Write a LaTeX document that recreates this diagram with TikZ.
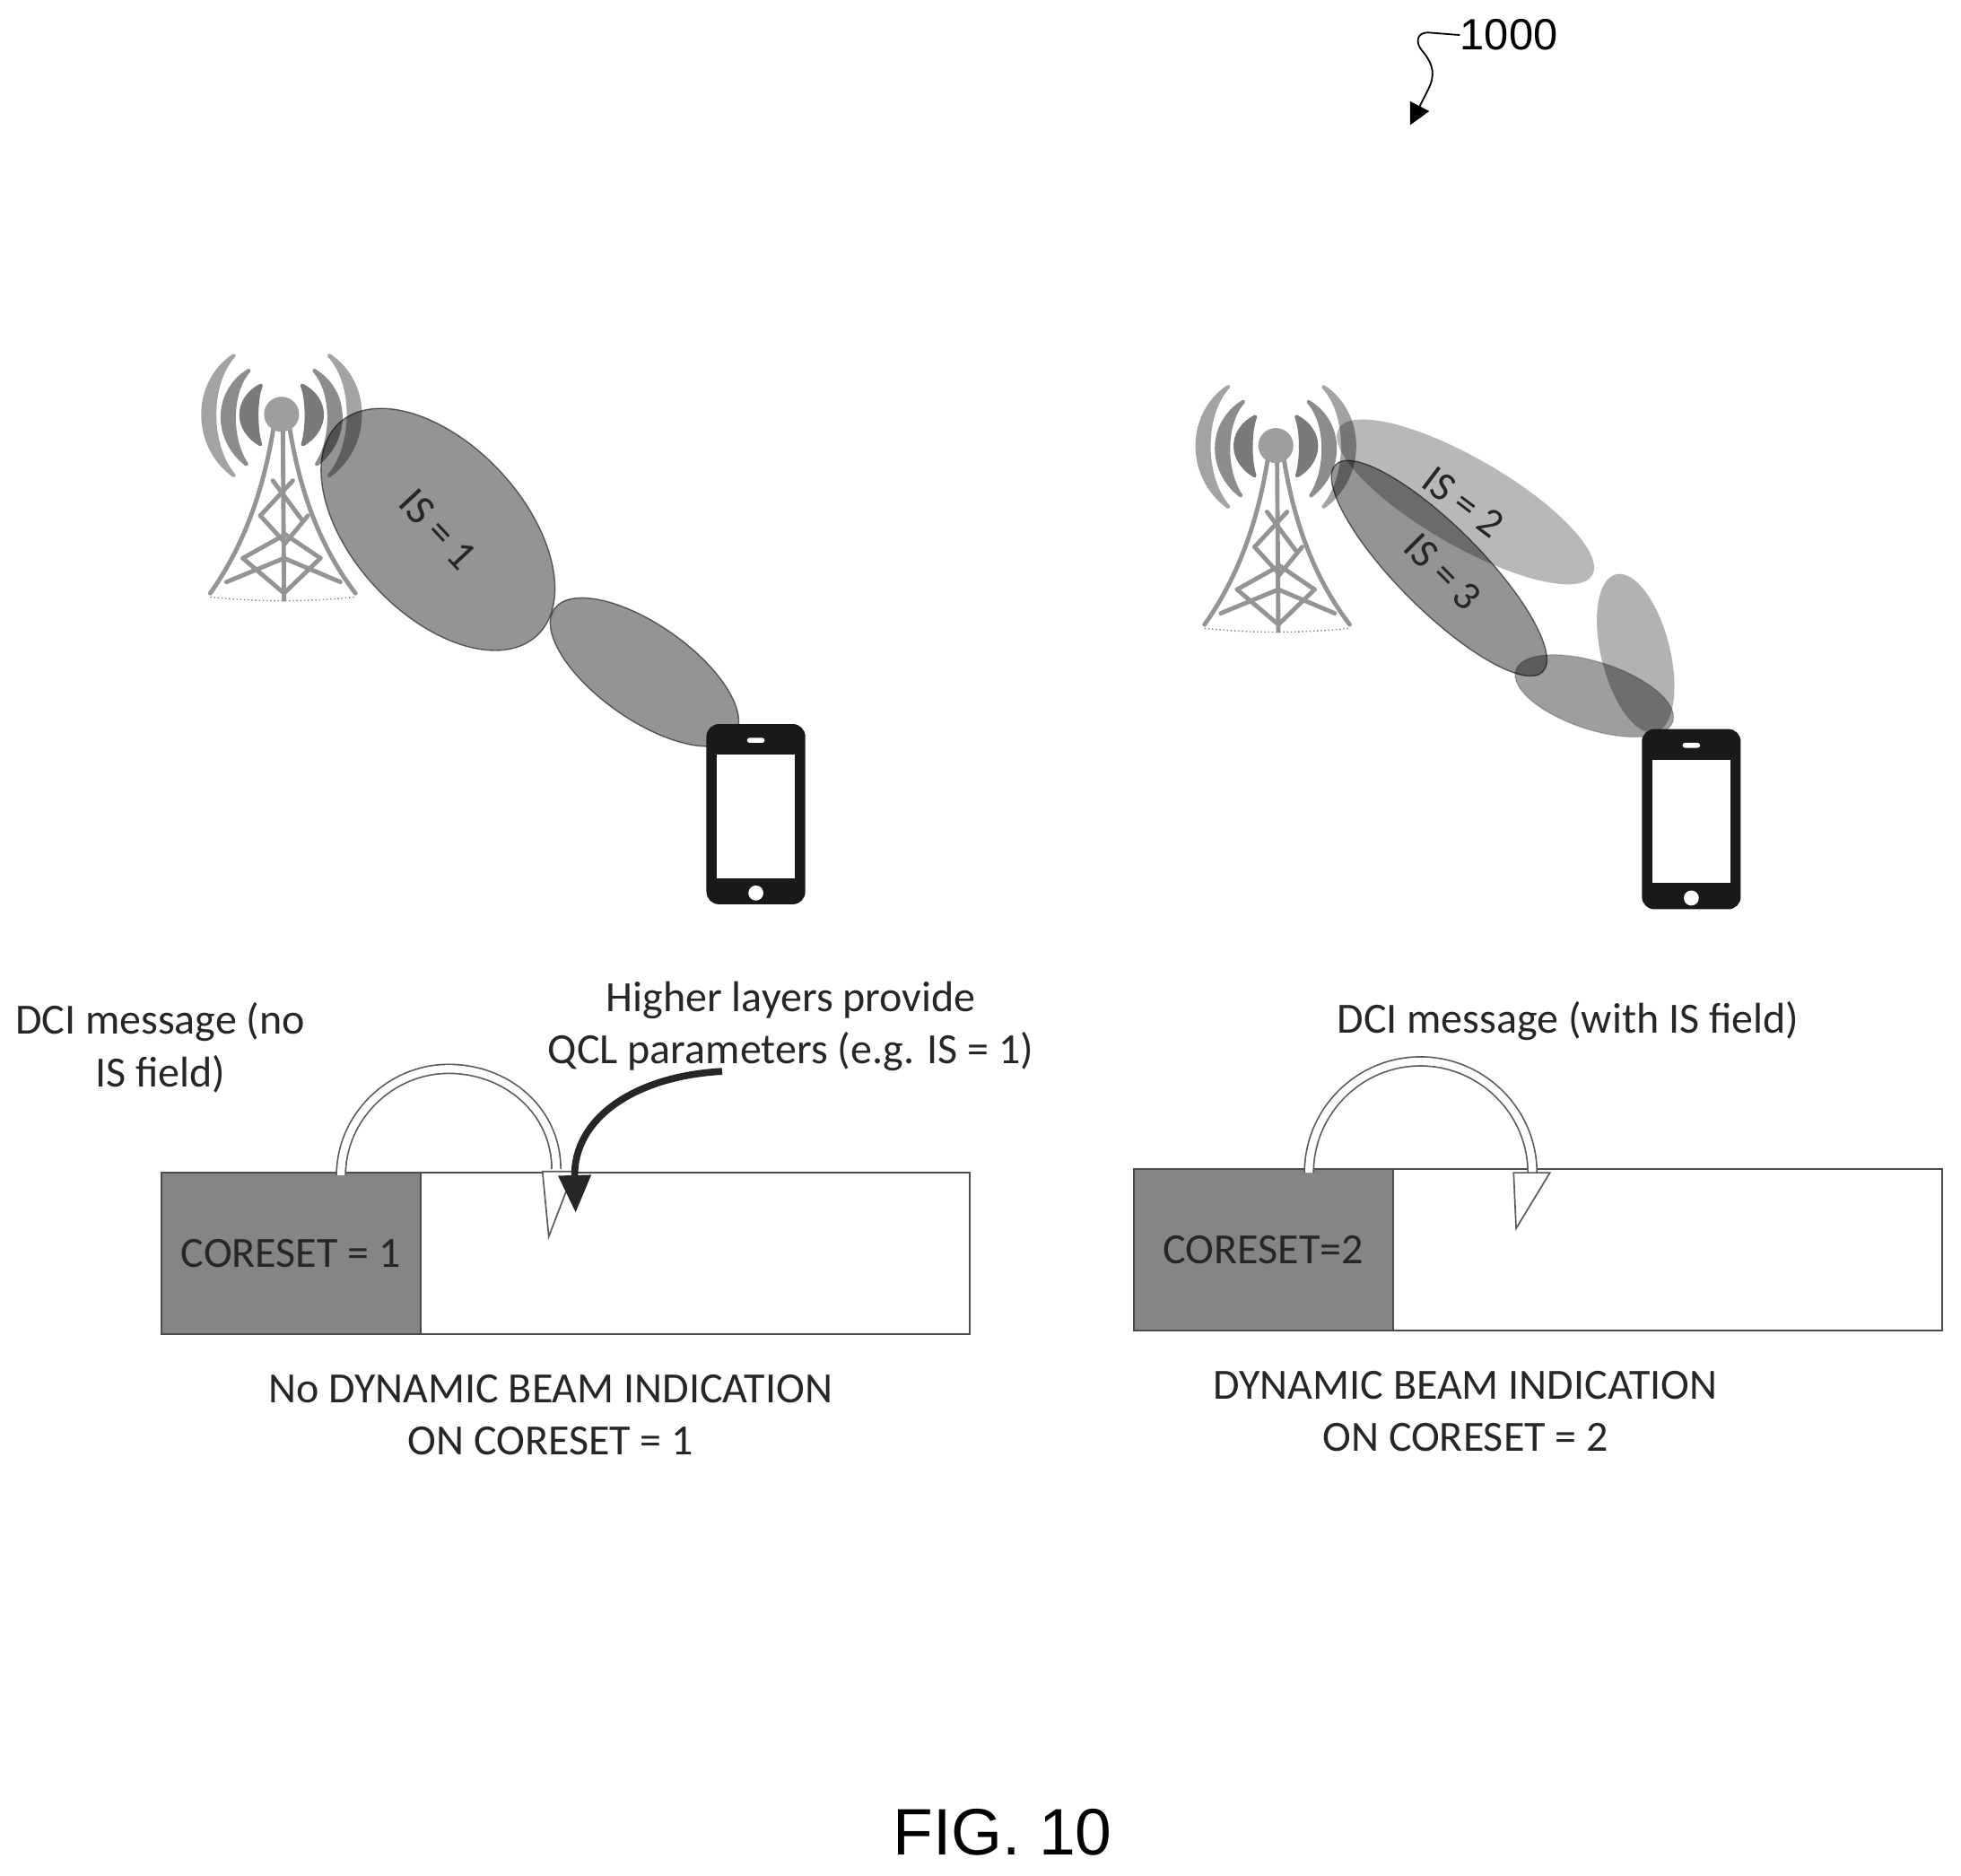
\documentclass[tikz,border=0pt]{standalone}
\usepackage{fontspec}
\setmainfont{Carlito}
\newfontfamily\figfont{Liberation Sans}
\usetikzlibrary{positioning,arrows.meta,shapes.geometric}

\tikzset{
  every picture/.style={line width=0.75pt},
  beam/.style={shape=ellipse,inner sep=0pt,outer sep=0pt,draw=black,draw opacity=.55,line width=1pt,
    fill=black,fill opacity=#1,text opacity=1,text=black!85,font=\fontsize{34}{40}\selectfont},
  beamtext/.style={inner sep=0pt,text=black!85,font=\fontsize{33}{40}\selectfont},
  caption/.style={align=center,text=black!85,font=\fontsize{34.4}{42}\selectfont},
  coreset/.style={draw=black!70,line width=1.2pt,fill=black!48,minimum width=207pt,minimum height=129pt,
    inner sep=0pt,outer sep=0pt,text=black!85,font=\fontsize{34.4}{40}\selectfont},
  slot/.style={draw=black!70,line width=1.2pt,fill=white,minimum width=439pt,minimum height=129pt,
    inner sep=0pt,outer sep=0pt},
  hollowband/.style={draw=black!65,line width=1.2pt,double=white,double distance=6pt},
  hollowhead/.style={draw=black!65,line width=1.2pt,fill=white,line join=miter},
  wavearc/.style={fill=black!#1,draw=black!#1,line width=3pt,line join=round},
  strut/.style={draw=black!42,line width=3.5pt,line cap=round},
  tower/.pic={
    %Waves
    \foreach \s in {-1,1} {
      \begin{scope}[xscale=\s]
        \path [wavearc=52] (-16.5,-23) .. controls (-37.5,-12) and (-37.5,12) .. (-17,24) .. controls (-21,12) and (-21,-12) .. cycle ;
        \path [wavearc=45] (-26,-35) .. controls (-54,-18) and (-54,20) .. (-28,40) .. controls (-41.7,20) and (-41.7,-18) .. cycle ;
        \path [wavearc=36] (-38,-47) .. controls (-71,-25) and (-71,25) .. (-38,49) .. controls (-58.8,25) and (-58.8,-25) .. cycle ;
      \end{scope}
    }
    %Legs
    \draw [strut] (-6,8) .. controls (-14,60) and (-30,105) .. (-57,143) ;
    \draw [strut] (6,8) .. controls (14,60) and (30,105) .. (59,143) ;
    \draw [strut] (1,10) -- (2,148) ;
    %Lattice
    \draw [strut] (-31,115) -- (2,143) -- (31,115) ;
    \draw [strut] (-44,134) -- (2,115) -- (47,134) ;
    \draw [strut] (-31,115) -- (3,96) -- (31,115) ;
    \draw [strut] (-17,81) -- (3,103) -- (21,81) ;
    \draw [strut] (-7,53) -- (16,84) ;
    \draw [strut] (9,53) -- (-17,81) ;
    %Ground
    \draw [black!50,line width=1pt,dotted] (-57,146) .. controls (-20,150) and (20,150) .. (59,146) ;
    %Ball
    \fill [black!38] (0,0) circle (14) ;
  },
  handset/.pic={
    \fill [black!90,rounded corners=10pt] (-39.5,-72) rectangle (39.5,72) ;
    \fill [white] (-31,-47.5) rectangle (31,51) ;
    \fill [white,rounded corners=2pt] (-7,-61) rectangle (7,-57) ;
    \fill [white] (0,63) circle (6) ;
  },
}

\begin{document}
\begin{tikzpicture}[x=1pt,y=1pt,yscale=-1,xscale=1]
\useasboundingbox (0,0) rectangle (1567,1498.2);

%Reference numeral
\node [inner sep=0pt,font=\figfont\fontsize{35}{40}\selectfont,anchor=west] (ref) at (1166.5,28) {1000};
\coordinate (refend) at (1126.7,100);
\draw [black,line width=1.3pt,-{Triangle[length=17pt,width=17pt]}] (ref.west) -- (1141,26) .. controls (1132,26) and (1131,34) .. (1136,40) .. controls (1146,52) and (1147,60) .. (1141,72) -- (refend) ;

%Towers
\pic [yscale=-1] at (225,331) {tower};
\pic [yscale=-1] at (1019.5,356) {tower};

%Left beams
\node [beam=.42,minimum width=232pt,minimum height=136pt,rotate=-47] (beamA) at (350,423) {IS = 1};
\node [beam=.42,minimum width=176pt,minimum height=76pt,rotate=-35] (beamB) at (515,537) {};

%Right beams
\node [beam=.28,draw opacity=0,minimum width=234pt,minimum height=70pt,rotate=-30] (beamC) at (1171,401) {};
\node [beam=.42,minimum width=234pt,minimum height=67pt,rotate=-45] (beamD) at (1150,454) {};
\node [beam=.38,draw opacity=.2,minimum width=132pt,minimum height=54pt,rotate=-18] (beamE) at (1274,556) {};
\node [beam=.3,draw opacity=0,minimum width=130pt,minimum height=55pt,rotate=-76] (beamF) at (1307,522) {};
\node [beamtext,rotate=-37] (isC) at (1169,401) {IS = 2};
\node [beamtext,rotate=-45] (isD) at (1153,457) {IS = 3};

%Phones
\pic [yscale=-1] at (604,650.5) {handset};
\pic [yscale=-1] at (1351.5,654.5) {handset};

%Left slot
\node [coreset] (coresetA) at (232.5,1001.5) {CORESET = 1};
\node [slot,right=0pt of coresetA] (slotA) {};
\path (coresetA.north) ++(40,2) coordinate (startA);
\path (slotA.north) ++(-111,-3) coordinate (endA);
\coordinate (topA) at (358.5,854);
\draw [hollowband] (startA) .. controls +(0,-46) and +(-47,0) .. (topA) .. controls +(47,0) and +(0,-46) .. (endA) ;
\draw [hollowhead] (endA) +(-11,2) -- +(14,2) -- +(-6,54) -- cycle ;

%Right slot
\node [coreset] (coresetB) at (1009.5,998.5) {CORESET=2};
\node [slot,right=0pt of coresetB] (slotB) {};
\path (coresetB.north) ++(36.5,3) coordinate (startB);
\path (slotB.north) ++(-108,3) coordinate (endB);
\coordinate (topB) at (1135,848);
\draw [hollowband] (startB) .. controls +(0,-49) and +(-49,0) .. (topB) .. controls +(49,0) and +(0,-49) .. (endB) ;
\draw [hollowhead] (endB) +(-15,0) -- +(14,0) -- +(-13,44.5) -- cycle ;

%Curve Lines
\coordinate (qclstart) at (577,856);
\coordinate (qcltip) at (460,969);
\draw [black!85,line width=5.5pt,-{Triangle[length=30pt,width=25pt]}] (qclstart) .. controls (505,860) and (458,895) .. (qcltip) ;

%Text
\node [caption] (dciA) at (128,837) {DCI message (no\\IS field)};
\node [caption] (qcl) at (632,820) {Higher layers provide\\QCL parameters (e.g. IS = 1)};
\node [caption] (dciB) at (1253,816) {DCI message (with IS field)};
\node [caption] (noteA) at (440,1130.5) {No DYNAMIC BEAM INDICATION\\ON CORESET = 1};
\node [caption] (noteB) at (1171,1127.5) {DYNAMIC BEAM INDICATION\\ON CORESET = 2};
\node [inner sep=0pt,font=\figfont\fontsize{52.5}{60}\selectfont] (fig) at (801,1464) {FIG. 10};

\end{tikzpicture}
\end{document}
